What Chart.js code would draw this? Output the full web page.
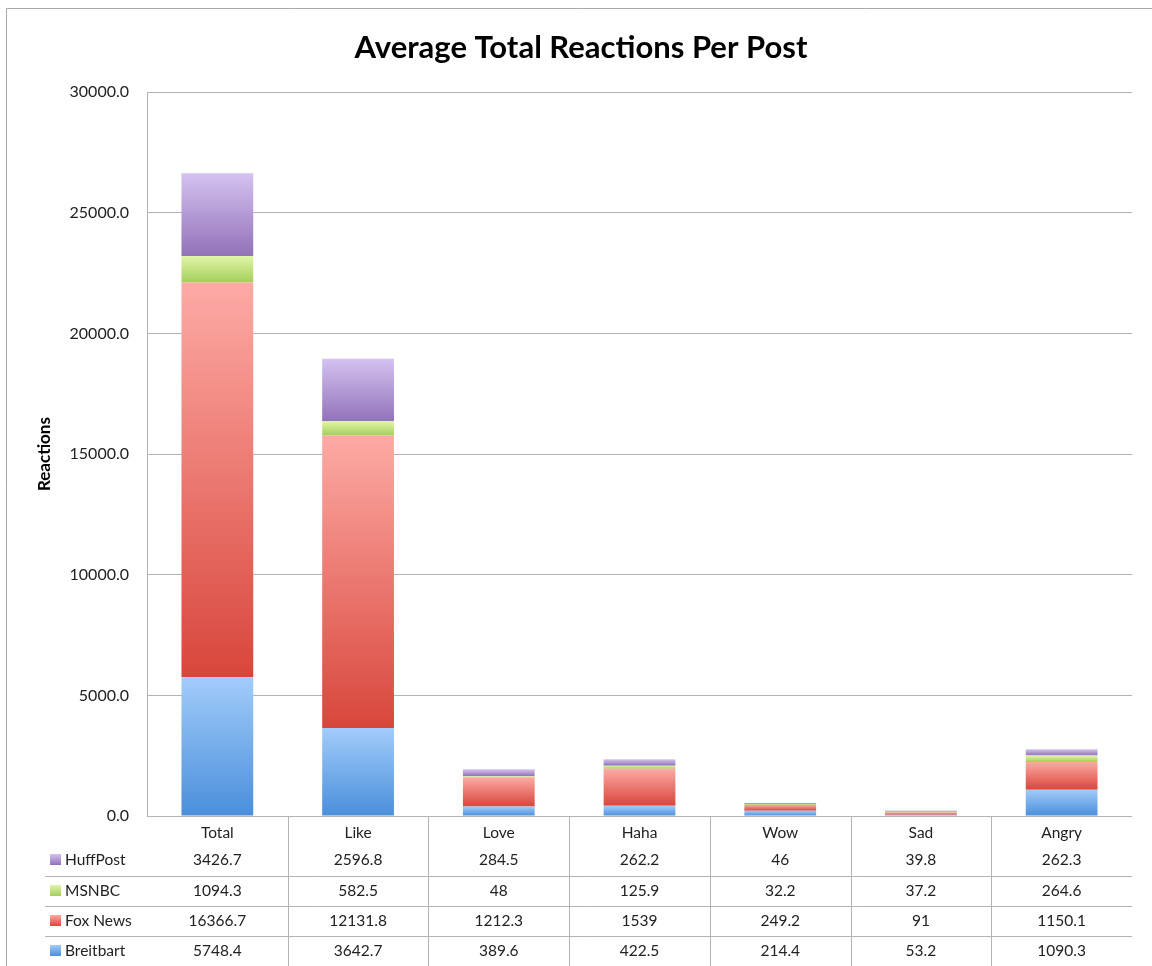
<!DOCTYPE html>
<html>
<head>
<meta charset="utf-8">
<script src="https://cdn.jsdelivr.net/npm/chart.js@4"></script>
<style>
  html, body { margin: 0; padding: 0; background: #fff; }
  #wrap { width: 1152px; height: 966px; }
</style>
</head>
<body>
<div id="wrap"><canvas id="reactions"></canvas></div>
<script>
const categories = ['Total', 'Like', 'Love', 'Haha', 'Wow', 'Sad', 'Angry'];
const seriesNames = ['Breitbart', 'Fox News', 'MSNBC', 'HuffPost'];
const breitbart = [5748.4, 3642.7, 389.6, 422.5, 214.4, 53.2, 1090.3];
const foxNews = [16366.7, 12131.8, 1212.3, 1539, 249.2, 91, 1150.1];
const msnbc = [1094.3, 582.5, 48, 125.9, 32.2, 37.2, 264.6];
const huffPost = [3426.7, 2596.8, 284.5, 262.2, 46, 39.8, 262.3];
const yTicks = [0, 5000, 10000, 15000, 20000, 25000, 30000];

const series = [breitbart, foxNews, msnbc, huffPost];
// light top / dark bottom for each segment
const shades = [
  ['#a2ccfa', '#4a8edb'],
  ['#fdaaa5', '#d8463b'],
  ['#e0f5a8', '#a5ce5a'],
  ['#d4c2f0', '#9272b8']
];
const gridColor = '#b3b3b3';
const textColor = '#222';
const fontFamily = 'Lato, "Open Sans", sans-serif';

function segmentFill(ctx) {
  const ds = ctx.datasetIndex;
  const col = shades[ds];
  const y = ctx.chart.scales.y;
  if (ctx.type !== 'data' || !y) return col[1];
  const i = ctx.dataIndex;
  let base = 0;
  for (let k = 0; k < ds; k++) base += series[k][i];
  const top = y.getPixelForValue(base + series[ds][i]);
  const bottom = y.getPixelForValue(base);
  if (!isFinite(top) || !isFinite(bottom) || bottom - top < 1) return col[1];
  const g = ctx.chart.ctx.createLinearGradient(0, top, 0, bottom);
  g.addColorStop(0, col[0]);
  g.addColorStop(1, col[1]);
  return g;
}

// excel style data table under the plot, plus the outer frame
const dataTable = {
  id: 'dataTable',
  beforeDraw(chart) {
    const c = chart.ctx;
    c.save();
    c.strokeStyle = '#a8a8a8';
    c.lineWidth = 1;
    c.beginPath();
    c.moveTo(6.5, chart.height);
    c.lineTo(6.5, 8.5);
    c.lineTo(chart.width, 8.5);
    c.stroke();
    c.restore();
  },
  afterDraw(chart) {
    const c = chart.ctx;
    const area = chart.chartArea;
    const x = chart.scales.x;
    const step = (area.right - area.left) / categories.length;
    const rowY = [860, 891, 921, 951];
    c.save();
    c.strokeStyle = gridColor;
    c.lineWidth = 1;
    c.beginPath();
    for (let k = 1; k < categories.length; k++) {
      const lx = Math.round(area.left + k * step) + 0.5;
      c.moveTo(lx, area.bottom);
      c.lineTo(lx, chart.height);
    }
    [876, 906, 936].forEach(ly => {
      c.moveTo(45, ly + 0.5);
      c.lineTo(area.right, ly + 0.5);
    });
    c.stroke();

    c.fillStyle = textColor;
    c.font = '15.5px ' + fontFamily;
    c.textAlign = 'center';
    c.textBaseline = 'middle';
    categories.forEach((cat, i) => {
      const cx = x.getPixelForValue(i);
      c.fillText(cat, cx, 833);
      for (let r = 0; r < 4; r++) {
        const s = series[3 - r];
        c.fillText(String(s[i]), cx, rowY[r]);
      }
    });
    c.textAlign = 'left';
    for (let r = 0; r < 4; r++) {
      const idx = 3 - r;
      const g = c.createLinearGradient(0, rowY[r] - 6, 0, rowY[r] + 5);
      g.addColorStop(0, shades[idx][0]);
      g.addColorStop(1, shades[idx][1]);
      c.fillStyle = g;
      c.fillRect(50, rowY[r] - 6, 11, 11);
      c.fillStyle = textColor;
      c.fillText(seriesNames[idx], 65, rowY[r]);
    }
    c.restore();
  }
};

new Chart(document.getElementById('reactions'), {
  type: 'bar',
  data: {
    labels: categories,
    datasets: series.map((values, k) => ({
      label: seriesNames[k],
      data: values,
      backgroundColor: segmentFill,
      borderWidth: 0,
      barPercentage: 0.51,
      categoryPercentage: 1
    }))
  },
  options: {
    responsive: true,
    maintainAspectRatio: false,
    animation: false,
    layout: { padding: { left: 30, right: 20, top: 0, bottom: 150 } },
    plugins: {
      legend: { display: false },
      tooltip: { enabled: false },
      title: {
        display: true,
        text: 'Average Total Reactions Per Post',
        color: '#000',
        font: { family: fontFamily, size: 31, weight: 'bold' },
        padding: { top: 29, bottom: 26 }
      }
    },
    scales: {
      x: {
        stacked: true,
        display: false
      },
      y: {
        stacked: true,
        min: 0,
        max: 30000,
        afterFit(scale) { scale.width = 117; },
        afterBuildTicks(scale) { scale.ticks = yTicks.map(v => ({ value: v })); },
        ticks: {
          color: textColor,
          font: { family: fontFamily, size: 16 },
          padding: 18,
          callback: v => Number(v).toFixed(1)
        },
        grid: { color: gridColor, drawTicks: false },
        border: { color: gridColor },
        title: {
          display: true,
          text: 'Reactions',
          color: '#000',
          font: { family: fontFamily, size: 17, weight: 'bold' },
          padding: { top: 4, bottom: 0 }
        }
      }
    }
  },
  plugins: [dataTable]
});
</script>
</body>
</html>
